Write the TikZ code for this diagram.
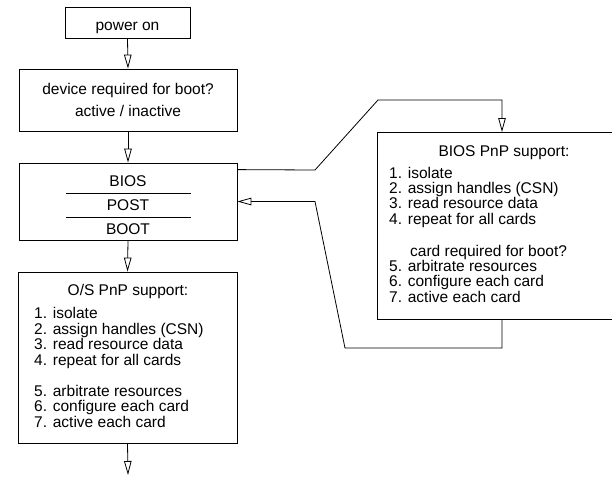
\documentclass[tikz,border=0pt]{standalone}
\usepackage{fontspec}
\setmainfont{Liberation Sans}
\usetikzlibrary{arrows.meta}
\tikzset{
  box/.style={draw, line width=0.8pt, inner sep=0pt, rectangle},
  lbl/.style={inner sep=0pt, anchor=base, font=\fontsize{15.5}{15.5}\selectfont},
  item/.style={inner sep=0pt, anchor=base west, font=\fontsize{15.5}{15.5}\selectfont},
  flow/.style={line width=0.8pt, -{Triangle[open, length=14pt, width=7.5pt, line width=0.8pt]}},
  wire/.style={line width=0.8pt},
}
\begin{document}
\begin{tikzpicture}[x=1pt, y=-1pt]
\useasboundingbox (0,0) rectangle (612,477);

% boxes
\node[box, minimum width=125pt, minimum height=31pt] (power) at (127.5,22.5) {};
\node[box, minimum width=218pt, minimum height=62pt] (device) at (128,100) {};
\node[box, minimum width=218pt, minimum height=77pt] (bios) at (128,201.5) {};
\node[box, minimum width=219pt, minimum height=171pt] (os) at (127.5,357.5) {};
% the support box runs past the right edge of the page
\node[box, minimum width=240pt, minimum height=187pt] (pnp) at (497,225.5) {};

% texts
\node[lbl] (tpower) at (127.5,30.5) {power on};
\node[lbl] (tdev1) at (128,94.5) {device required for boot?};
\node[lbl] (tdev2) at (128,116.7) {active / inactive};
\node[lbl] (tbios) at (128,186.7) {BIOS};
\node[lbl] (tpost) at (128,210.7) {POST};
\node[lbl] (tboot) at (128,234) {BOOT};
\draw[wire] (66,193.3) -- (190.7,193.3);
\draw[wire] (66,217.3) -- (190.7,217.3);

\node[lbl] (tos) at (128,295.7) {O/S PnP support:};
\node[item] (os1) at (34,318.7) {1. isolate};
\node[item] (os2) at (34,334.2) {2. assign handles (CSN)};
\node[item] (os3) at (34,349.7) {3. read resource data};
\node[item] (os4) at (34,365.2) {4. repeat for all cards};
\node[item] (os5) at (34,396.3) {5. arbitrate resources};
\node[item] (os6) at (34,411.6) {6. configure each card};
\node[item] (os7) at (34,427) {7. active each card};

\node[lbl] (tpnp) at (504,156.7) {BIOS PnP support:};
\node[item] (p1) at (389,178) {1. isolate};
\node[item] (p2) at (389,193.3) {2. assign handles (CSN)};
\node[item] (p3) at (389,208.6) {3. read resource data};
\node[item] (p4) at (389,224) {4. repeat for all cards};
\node[item] (pc) at (410,256.5) {card required for boot?};
\node[item] (p5) at (389,271.7) {5. arbitrate resources};
\node[item] (p6) at (389,286.9) {6. configure each card};
\node[item] (p7) at (389,302) {7. active each card};

% connectors
\coordinate (out) at (128,475);
\coordinate (pnpin) at (502,132);
\coordinate (pnpout) at (502,319);
\draw[flow] (power.south) -- (device.north);
\draw[flow] (device.south) -- (bios.north);
\draw[flow] (bios.south) -- (os.north);
\draw[flow] (os.south) -- (out);
\draw[flow] ([yshift=-7pt]bios.north east) -- (315,170) -- (378,100) -- (pnpin |- 0,100) -- (pnpin);
\draw[flow] (pnpout) -- (502,348) -- (345,348) -- (315,201.5) -- (bios.east);
\end{tikzpicture}
\end{document}
